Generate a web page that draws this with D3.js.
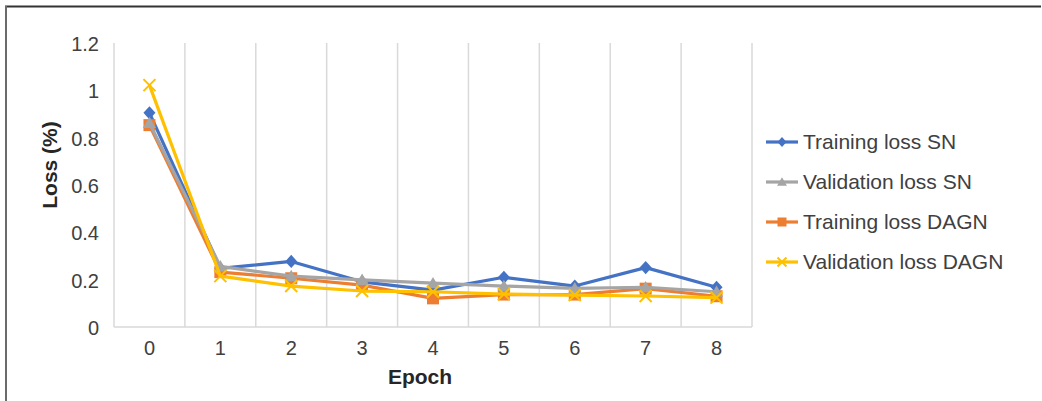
<!DOCTYPE html>
<html><head><meta charset="utf-8">
<script src="https://cdn.jsdelivr.net/npm/d3@7"></script>
<style>html,body{margin:0;padding:0;background:#fff;}svg{display:block;font-family:"Liberation Sans",Arial,sans-serif;}</style>
</head><body>
<svg id="c" width="1042" height="401"></svg>
<script>
const epochs = [0,1,2,3,4,5,6,7,8];
const trainingSN   = [0.905,0.248,0.277,0.191,0.156,0.210,0.173,0.251,0.168];
const validationSN = [0.862,0.256,0.215,0.199,0.185,0.173,0.163,0.168,0.149];
const trainingDAGN = [0.853,0.232,0.206,0.177,0.121,0.137,0.137,0.162,0.130];
const validationDAGN=[1.022,0.215,0.173,0.152,0.149,0.139,0.135,0.131,0.124];
const yTicks = [0,0.2,0.4,0.6,0.8,1,1.2];
const seriesNames = ["Training loss SN","Validation loss SN","Training loss DAGN","Validation loss DAGN"];
const seriesColors = ["#4472C4","#A5A5A5","#ED7D31","#FFC000"];
const seriesMarkers = ["diamond","triangle","square","cross"];
const seriesValues = [trainingSN, validationSN, trainingDAGN, validationDAGN];
const drawOrder = [0,2,1,3];

const svg = d3.select("#c");
// frame
svg.append("line").attr("x1",5).attr("x2",1041).attr("y1",6.5).attr("y2",6.5).attr("stroke","#333").attr("stroke-width",2);
svg.append("line").attr("x1",6).attr("x2",6).attr("y1",6).attr("y2",401).attr("stroke","#6b6b6b").attr("stroke-width",2);

const L=114, R=752, T=43, B=327;
const x = d3.scaleBand().domain(epochs).range([L,R]);
const y = d3.scaleLinear().domain([0,1.2]).range([B,T]);

// vertical gridlines at band boundaries
const bounds = epochs.map(e=>x(e)).concat([R]);
svg.append("g").selectAll("line").data(bounds).join("line")
  .attr("x1",d=>d).attr("x2",d=>d).attr("y1",T).attr("y2",B)
  .attr("stroke","#d9d9d9").attr("stroke-width",1.5);
svg.append("line").attr("x1",L).attr("x2",R).attr("y1",B).attr("y2",B).attr("stroke","#d9d9d9").attr("stroke-width",1.5);

// y axis labels
const yAxis = d3.axisLeft(y).tickValues(yTicks).tickSize(0).tickPadding(0).tickFormat(d=>d3.format("")(d));
const gy = svg.append("g").attr("transform",`translate(99,1)`).call(yAxis);
gy.select(".domain").remove();
gy.selectAll("text").attr("font-size",20).attr("fill","#404040").attr("font-family","Liberation Sans, Arial, sans-serif");

// x axis labels
const xAxis = d3.axisBottom(x).tickSize(0).tickPadding(0);
const gx = svg.append("g").attr("transform",`translate(0,${B+14})`).call(xAxis);
gx.select(".domain").remove();
gx.selectAll("text").attr("font-size",20).attr("fill","#404040").attr("font-family","Liberation Sans, Arial, sans-serif");

// axis titles
svg.append("text").attr("x",420).attr("y",384).attr("text-anchor","middle")
  .attr("font-size",21).attr("font-weight","bold").attr("fill","#262626").text("Epoch");
svg.append("text").attr("transform","translate(57,165) rotate(-90)").attr("text-anchor","middle")
  .attr("font-size",21).attr("font-weight","bold").attr("fill","#262626").text("Loss (%)");

function drawMarker(g, type, color, cx, cy, s){
  const h=s/2;
  let d;
  if(type==="diamond") d=`M${cx},${cy-h*1.1}L${cx+h},${cy}L${cx},${cy+h*1.1}L${cx-h},${cy}Z`;
  else if(type==="triangle") d=`M${cx},${cy-h*1.05}L${cx+h*1.1},${cy+h*0.85}L${cx-h*1.1},${cy+h*0.85}Z`;
  else if(type==="square") d=`M${cx-h},${cy-h}h${s}v${s}h${-s}Z`;
  if(type==="cross"){
    g.append("path").attr("d",`M${cx-h},${cy-h}L${cx+h},${cy+h}M${cx-h},${cy+h}L${cx+h},${cy-h}`)
      .attr("stroke",color).attr("stroke-width",2).attr("fill","none");
  } else {
    g.append("path").attr("d",d).attr("fill",color);
  }
}

const line = d3.line().x((d,i)=>x(epochs[i])+x.bandwidth()/2).y(d=>y(d));
drawOrder.forEach(si=>{
  const g = svg.append("g");
  g.append("path").datum(seriesValues[si]).attr("d",line).attr("fill","none")
    .attr("stroke",seriesColors[si]).attr("stroke-width",3.2).attr("stroke-linejoin","round");
  seriesValues[si].forEach((v,i)=>{
    drawMarker(g, seriesMarkers[si], seriesColors[si], x(epochs[i])+x.bandwidth()/2, y(v), 12);
  });
});

// legend
const legY = [142,182,222,262];
seriesNames.forEach((n,i)=>{
  const g = svg.append("g");
  g.append("line").attr("x1",766).attr("x2",798).attr("y1",legY[i]).attr("y2",legY[i])
    .attr("stroke",seriesColors[i]).attr("stroke-width",3.2);
  drawMarker(g, seriesMarkers[i], seriesColors[i], 782, legY[i], 9);
  g.append("text").attr("x",803).attr("y",legY[i]).attr("dy","0.35em")
    .attr("font-size",21).attr("fill","#404040").text(n);
});
</script>
</body></html>
